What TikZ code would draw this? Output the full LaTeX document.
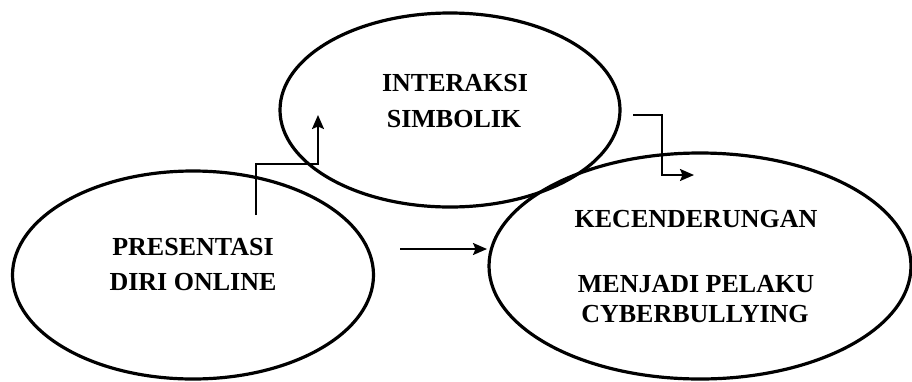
\documentclass[tikz,border=0pt]{standalone}
\usepackage{fontspec}
\setmainfont{Liberation Serif}
\usetikzlibrary{shapes.geometric,arrows.meta}
\tikzset{
  ell/.style={draw=black, line width=3.2pt, ellipse, inner sep=0pt},
  lbl/.style={anchor=base, inner sep=0pt, font=\fontsize{26}{30}\selectfont\bfseries},
  arr/.style={draw=black, line width=2pt, -{Stealth[length=14pt,width=12pt,inset=2.5pt]}},
  plain/.style={draw=black, line width=2pt}
}
\begin{document}
\begin{tikzpicture}[x=1pt,y=-1pt]
\useasboundingbox (0,0) rectangle (912,381);
% ellipses
\node[ell, minimum width=340pt, minimum height=194pt] (inter) at (450,110) {};
\node[ell, minimum width=361pt, minimum height=208pt] (pres) at (193,275) {};
\node[ell, minimum width=422pt, minimum height=226pt] (kec) at (700,266) {};
% texts
\node[lbl] (t1) at (455,91) {INTERAKSI};
\node[lbl] (t2) at (454,127) {SIMBOLIK};
\node[lbl] (t3) at (193,255) {PRESENTASI};
\node[lbl] (t4) at (193,290) {DIRI ONLINE};
\node[lbl] (t5) at (696,227) {KECENDERUNGAN};
\node[lbl] (t6) at (696,292) {MENJADI PELAKU};
\node[lbl] (t7) at (695,322) {CYBERBULLYING};
% connector endpoints
\coordinate (a1s) at (256,215);
\coordinate (a1e) at (318,115);
\coordinate (a2s) at (633,115);
\coordinate (a2e) at (694,175);
\coordinate (a3s) at (400,249);
\coordinate (a3e) at (487,249);
% connectors
\draw[arr] (a1s) -- ++(0,-51) -| (a1e);
\draw[arr] (a2s) -- ++(29,0) |- (a2e);
\draw[arr] (a3s) -- (a3e);
\end{tikzpicture}
\end{document}
